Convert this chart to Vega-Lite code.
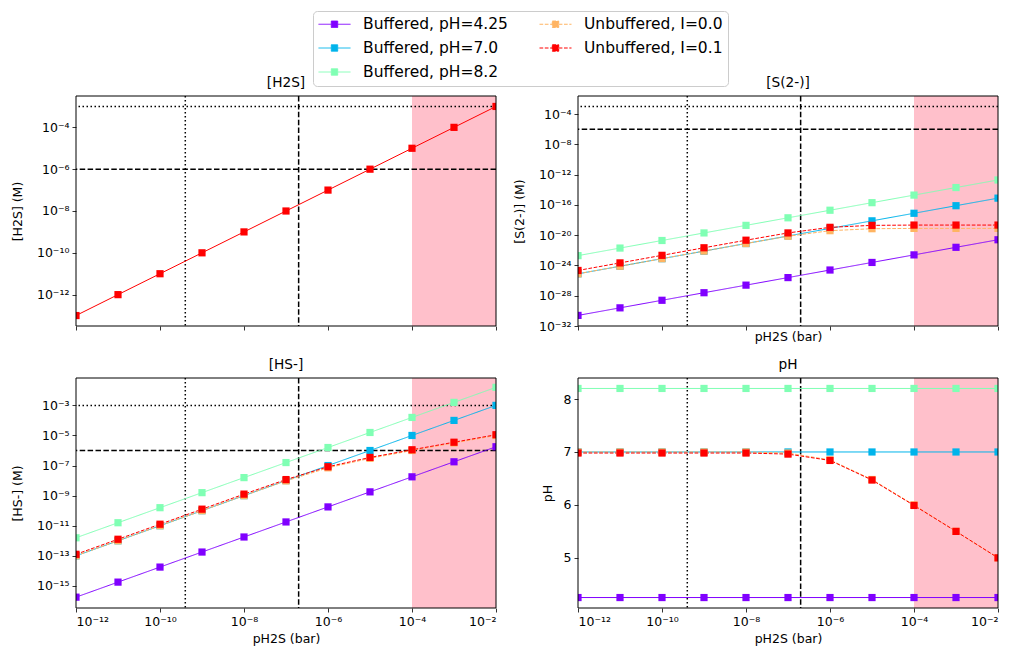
{
  "$schema": "https://vega.github.io/schema/vega-lite/v6.json",
  "padding": {"left": 11, "top": 10, "right": 5, "bottom": 5},
  "config": {
    "font": "DejaVu Sans",
    "view": {"stroke": null},
    "axis": {
      "grid": false,
      "domain": false,
      "tickColor": "black",
      "tickSize": 4,
      "tickWidth": 0.8,
      "labelColor": "black",
      "titleColor": "black",
      "labelFontSize": 12.5,
      "titleFontSize": 12.5,
      "titleFontWeight": "normal",
      "labelPadding": 3
    },
    "title": {"fontSize": 13.7, "fontWeight": "normal", "color": "black", "offset": 6}
  },
  "datasets": {
    "band": [{"lo": 1e-4, "hi": 1e-2}],
    "curves": [
      {"x": 1e-12, "s": "Buffered, pH=4.25", "h2s": 1e-13, "s2": 2.51e-31, "hs": 1.78e-16, "ph": 4.25},
      {"x": 1e-11, "s": "Buffered, pH=4.25", "h2s": 1e-12, "s2": 2.51e-30, "hs": 1.78e-15, "ph": 4.25},
      {"x": 1e-10, "s": "Buffered, pH=4.25", "h2s": 1e-11, "s2": 2.51e-29, "hs": 1.78e-14, "ph": 4.25},
      {"x": 1e-9, "s": "Buffered, pH=4.25", "h2s": 1e-10, "s2": 2.51e-28, "hs": 1.78e-13, "ph": 4.25},
      {"x": 1e-8, "s": "Buffered, pH=4.25", "h2s": 1e-9, "s2": 2.51e-27, "hs": 1.78e-12, "ph": 4.25},
      {"x": 1e-7, "s": "Buffered, pH=4.25", "h2s": 1e-8, "s2": 2.51e-26, "hs": 1.78e-11, "ph": 4.25},
      {"x": 1e-6, "s": "Buffered, pH=4.25", "h2s": 1e-7, "s2": 2.51e-25, "hs": 1.78e-10, "ph": 4.25},
      {"x": 1e-5, "s": "Buffered, pH=4.25", "h2s": 1e-6, "s2": 2.51e-24, "hs": 1.78e-9, "ph": 4.25},
      {"x": 1e-4, "s": "Buffered, pH=4.25", "h2s": 1e-5, "s2": 2.51e-23, "hs": 1.78e-8, "ph": 4.25},
      {"x": 1e-3, "s": "Buffered, pH=4.25", "h2s": 1e-4, "s2": 2.51e-22, "hs": 1.78e-7, "ph": 4.25},
      {"x": 1e-2, "s": "Buffered, pH=4.25", "h2s": 1e-3, "s2": 2.51e-21, "hs": 1.78e-6, "ph": 4.25},

      {"x": 1e-12, "s": "Buffered, pH=7.0", "h2s": 1e-13, "s2": 7.94e-26, "hs": 1e-13, "ph": 7.0},
      {"x": 1e-11, "s": "Buffered, pH=7.0", "h2s": 1e-12, "s2": 7.94e-25, "hs": 1e-12, "ph": 7.0},
      {"x": 1e-10, "s": "Buffered, pH=7.0", "h2s": 1e-11, "s2": 7.94e-24, "hs": 1e-11, "ph": 7.0},
      {"x": 1e-9, "s": "Buffered, pH=7.0", "h2s": 1e-10, "s2": 7.94e-23, "hs": 1e-10, "ph": 7.0},
      {"x": 1e-8, "s": "Buffered, pH=7.0", "h2s": 1e-9, "s2": 7.94e-22, "hs": 1e-9, "ph": 7.0},
      {"x": 1e-7, "s": "Buffered, pH=7.0", "h2s": 1e-8, "s2": 7.94e-21, "hs": 1e-8, "ph": 7.0},
      {"x": 1e-6, "s": "Buffered, pH=7.0", "h2s": 1e-7, "s2": 7.94e-20, "hs": 1e-7, "ph": 7.0},
      {"x": 1e-5, "s": "Buffered, pH=7.0", "h2s": 1e-6, "s2": 7.94e-19, "hs": 1e-6, "ph": 7.0},
      {"x": 1e-4, "s": "Buffered, pH=7.0", "h2s": 1e-5, "s2": 7.94e-18, "hs": 1e-5, "ph": 7.0},
      {"x": 1e-3, "s": "Buffered, pH=7.0", "h2s": 1e-4, "s2": 7.94e-17, "hs": 1e-4, "ph": 7.0},
      {"x": 1e-2, "s": "Buffered, pH=7.0", "h2s": 1e-3, "s2": 7.94e-16, "hs": 1e-3, "ph": 7.0},

      {"x": 1e-12, "s": "Buffered, pH=8.2", "h2s": 1e-13, "s2": 2.0e-23, "hs": 1.58e-12, "ph": 8.2},
      {"x": 1e-11, "s": "Buffered, pH=8.2", "h2s": 1e-12, "s2": 2.0e-22, "hs": 1.58e-11, "ph": 8.2},
      {"x": 1e-10, "s": "Buffered, pH=8.2", "h2s": 1e-11, "s2": 2.0e-21, "hs": 1.58e-10, "ph": 8.2},
      {"x": 1e-9, "s": "Buffered, pH=8.2", "h2s": 1e-10, "s2": 2.0e-20, "hs": 1.58e-9, "ph": 8.2},
      {"x": 1e-8, "s": "Buffered, pH=8.2", "h2s": 1e-9, "s2": 2.0e-19, "hs": 1.58e-8, "ph": 8.2},
      {"x": 1e-7, "s": "Buffered, pH=8.2", "h2s": 1e-8, "s2": 2.0e-18, "hs": 1.58e-7, "ph": 8.2},
      {"x": 1e-6, "s": "Buffered, pH=8.2", "h2s": 1e-7, "s2": 2.0e-17, "hs": 1.58e-6, "ph": 8.2},
      {"x": 1e-5, "s": "Buffered, pH=8.2", "h2s": 1e-6, "s2": 2.0e-16, "hs": 1.58e-5, "ph": 8.2},
      {"x": 1e-4, "s": "Buffered, pH=8.2", "h2s": 1e-5, "s2": 2.0e-15, "hs": 1.58e-4, "ph": 8.2},
      {"x": 1e-3, "s": "Buffered, pH=8.2", "h2s": 1e-4, "s2": 2.0e-14, "hs": 1.58e-3, "ph": 8.2},
      {"x": 1e-2, "s": "Buffered, pH=8.2", "h2s": 1e-3, "s2": 2.0e-13, "hs": 1.58e-2, "ph": 8.2},

      {"x": 1e-12, "s": "Unbuffered, I=0.0", "h2s": 1e-13, "s2": 7.94e-26, "hs": 1e-13, "ph": 7.0},
      {"x": 1e-11, "s": "Unbuffered, I=0.0", "h2s": 1e-12, "s2": 7.94e-25, "hs": 1e-12, "ph": 7.0},
      {"x": 1e-10, "s": "Unbuffered, I=0.0", "h2s": 1e-11, "s2": 7.94e-24, "hs": 1e-11, "ph": 7.0},
      {"x": 1e-9, "s": "Unbuffered, I=0.0", "h2s": 1e-10, "s2": 7.94e-23, "hs": 1e-10, "ph": 7.0},
      {"x": 1e-8, "s": "Unbuffered, I=0.0", "h2s": 1e-9, "s2": 7.94e-22, "hs": 1e-9, "ph": 7.0},
      {"x": 1e-7, "s": "Unbuffered, I=0.0", "h2s": 1e-8, "s2": 7.24e-21, "hs": 9.55e-9, "ph": 6.98},
      {"x": 1e-6, "s": "Unbuffered, I=0.0", "h2s": 1e-7, "s2": 3.98e-20, "hs": 7.08e-8, "ph": 6.85},
      {"x": 1e-5, "s": "Unbuffered, I=0.0", "h2s": 1e-6, "s2": 7.24e-20, "hs": 3.02e-7, "ph": 6.48},
      {"x": 1e-4, "s": "Unbuffered, I=0.0", "h2s": 1e-5, "s2": 7.94e-20, "hs": 1e-6, "ph": 6.0},
      {"x": 1e-3, "s": "Unbuffered, I=0.0", "h2s": 1e-4, "s2": 7.94e-20, "hs": 3.16e-6, "ph": 5.5},
      {"x": 1e-2, "s": "Unbuffered, I=0.0", "h2s": 1e-3, "s2": 7.94e-20, "hs": 1e-5, "ph": 5.0},

      {"x": 1e-12, "s": "Unbuffered, I=0.1", "h2s": 1e-13, "s2": 2.19e-25, "hs": 1.26e-13, "ph": 6.98},
      {"x": 1e-11, "s": "Unbuffered, I=0.1", "h2s": 1e-12, "s2": 2.19e-24, "hs": 1.26e-12, "ph": 6.98},
      {"x": 1e-10, "s": "Unbuffered, I=0.1", "h2s": 1e-11, "s2": 2.19e-23, "hs": 1.26e-11, "ph": 6.98},
      {"x": 1e-9, "s": "Unbuffered, I=0.1", "h2s": 1e-10, "s2": 2.19e-22, "hs": 1.26e-10, "ph": 6.98},
      {"x": 1e-8, "s": "Unbuffered, I=0.1", "h2s": 1e-9, "s2": 2.19e-21, "hs": 1.26e-9, "ph": 6.98},
      {"x": 1e-7, "s": "Unbuffered, I=0.1", "h2s": 1e-8, "s2": 2.0e-20, "hs": 1.17e-8, "ph": 6.96},
      {"x": 1e-6, "s": "Unbuffered, I=0.1", "h2s": 1e-7, "s2": 1.10e-19, "hs": 8.32e-8, "ph": 6.84},
      {"x": 1e-5, "s": "Unbuffered, I=0.1", "h2s": 1e-6, "s2": 2.0e-19, "hs": 3.47e-7, "ph": 6.47},
      {"x": 1e-4, "s": "Unbuffered, I=0.1", "h2s": 1e-5, "s2": 2.19e-19, "hs": 1.12e-6, "ph": 5.99},
      {"x": 1e-3, "s": "Unbuffered, I=0.1", "h2s": 1e-4, "s2": 2.19e-19, "hs": 3.55e-6, "ph": 5.5},
      {"x": 1e-2, "s": "Unbuffered, I=0.1", "h2s": 1e-3, "s2": 2.19e-19, "hs": 1.12e-5, "ph": 5.0}
    ]
  },
  "resolve": {"scale": {"color": "shared", "strokeDash": "shared"}},
  "columns": 2,
  "spacing": {"row": 52, "column": 82},
  "bounds": "flush",
  "concat": [
    {
      "width": 420, "height": 230,
      "title": "[H2S]",
      "layer": [
        {"data": {"name": "band"}, "mark": {"type": "rect", "color": "pink"},
         "encoding": {
           "x": {"field": "lo", "type": "quantitative", "scale": {"type": "log", "domain": [1e-12, 1e-2], "nice": false},
                 "axis": {"values": [1e-12, 1e-10, 1e-8, 1e-6, 1e-4, 1e-2], "labels": false, "title": null}},
           "x2": {"field": "hi"}}},
        {"data": {"values": [{"p": 4e-10}]}, "mark": {"type": "rule", "color": "black", "strokeWidth": 1.5, "strokeDash": [1.5, 2.5]},
         "encoding": {"x": {"field": "p", "type": "quantitative"}}},
        {"data": {"values": [{"p": 2e-7}]}, "mark": {"type": "rule", "color": "black", "strokeWidth": 1.5, "strokeDash": [5.5, 2.4]},
         "encoding": {"x": {"field": "p", "type": "quantitative"}}},
        {"data": {"values": [{"c": 1e-3}]}, "mark": {"type": "rule", "color": "black", "strokeWidth": 1.5, "strokeDash": [1.5, 2.5]},
         "encoding": {"y": {"field": "c", "type": "quantitative", "scale": {"type": "log", "domain": [3.162e-14, 3.162e-3], "nice": false},
           "axis": {"values": [1e-12, 1e-10, 1e-8, 1e-6, 1e-4], "title": "[H2S] (M)", "titlePadding": 12,
             "labelExpr": "'10⁻' + (abs(round(log(datum.value)/LN10)) >= 10 ? ['⁰','¹','²','³','⁴','⁵','⁶','⁷','⁸','⁹'][floor(abs(round(log(datum.value)/LN10))/10)] : '') + ['⁰','¹','²','³','⁴','⁵','⁶','⁷','⁸','⁹'][abs(round(log(datum.value)/LN10)) % 10]"}}}},
        {"data": {"values": [{"c": 1e-6}]}, "mark": {"type": "rule", "color": "black", "strokeWidth": 1.5, "strokeDash": [5.5, 2.4]},
         "encoding": {"y": {"field": "c", "type": "quantitative"}}},
        {"data": {"name": "curves"}, "transform": [{"filter": "datum.s === 'Unbuffered, I=0.1'"}],
         "mark": {"type": "line", "strokeWidth": 1, "color": "#ff0000", "clip": true},
         "encoding": {
           "x": {"field": "x", "type": "quantitative"},
           "y": {"field": "h2s", "type": "quantitative"}}},
        {"data": {"name": "curves"}, "transform": [{"filter": "datum.s === 'Unbuffered, I=0.1'"}],
         "mark": {"type": "point", "shape": "square", "filled": true, "size": 52, "opacity": 1, "color": "#ff0000", "clip": true},
         "encoding": {
           "x": {"field": "x", "type": "quantitative"},
           "y": {"field": "h2s", "type": "quantitative"}}},
        {"data": {"name": "band"}, "mark": {"type": "rect", "fill": null, "filled": false, "stroke": "black", "strokeWidth": 1},
         "encoding": {}}
      ]
    },
    {
      "width": 420, "height": 230,
      "title": "[S(2-)]",
      "layer": [
        {"data": {"name": "band"}, "mark": {"type": "rect", "color": "pink"},
         "encoding": {
           "x": {"field": "lo", "type": "quantitative", "scale": {"type": "log", "domain": [1e-12, 1e-2], "nice": false},
                 "axis": {"values": [1e-12, 1e-10, 1e-8, 1e-6, 1e-4, 1e-2], "labels": false, "title": "pH2S (bar)", "titlePadding": 0}},
           "x2": {"field": "hi"}}},
        {"data": {"values": [{"p": 4e-10}]}, "mark": {"type": "rule", "color": "black", "strokeWidth": 1.5, "strokeDash": [1.5, 2.5]},
         "encoding": {"x": {"field": "p", "type": "quantitative"}}},
        {"data": {"values": [{"p": 2e-7}]}, "mark": {"type": "rule", "color": "black", "strokeWidth": 1.5, "strokeDash": [5.5, 2.4]},
         "encoding": {"x": {"field": "p", "type": "quantitative"}}},
        {"data": {"values": [{"c": 1e-3}]}, "mark": {"type": "rule", "color": "black", "strokeWidth": 1.5, "strokeDash": [1.5, 2.5]},
         "encoding": {"y": {"field": "c", "type": "quantitative", "scale": {"type": "log", "domain": [1e-32, 2.51e-2], "nice": false},
           "axis": {"values": [1e-32, 1e-28, 1e-24, 1e-20, 1e-16, 1e-12, 1e-8, 1e-4], "title": "[S(2-)] (M)", "titlePadding": 12,
             "labelExpr": "'10⁻' + (abs(round(log(datum.value)/LN10)) >= 10 ? ['⁰','¹','²','³','⁴','⁵','⁶','⁷','⁸','⁹'][floor(abs(round(log(datum.value)/LN10))/10)] : '') + ['⁰','¹','²','³','⁴','⁵','⁶','⁷','⁸','⁹'][abs(round(log(datum.value)/LN10)) % 10]"}}}},
        {"data": {"values": [{"c": 1e-6}]}, "mark": {"type": "rule", "color": "black", "strokeWidth": 1.5, "strokeDash": [5.5, 2.4]},
         "encoding": {"y": {"field": "c", "type": "quantitative"}}},
        {"data": {"name": "curves"}, "mark": {"type": "line", "strokeWidth": 1, "clip": true},
         "encoding": {
           "x": {"field": "x", "type": "quantitative"},
           "y": {"field": "s2", "type": "quantitative"},
           "color": {"field": "s", "type": "nominal",
             "scale": {"domain": ["Buffered, pH=4.25", "Buffered, pH=7.0", "Buffered, pH=8.2", "Unbuffered, I=0.0", "Unbuffered, I=0.1"],
                       "range": ["#8000ff", "#00b4eb", "#80ffb4", "#ffb462", "#ff0000"]},
             "legend": {"orient": "none", "legendX": 237, "legendY": -85, "columns": 2, "title": null,
               "symbolType": "M-1,0H-0.2M0.2,0H1M-0.2,-0.2H0.2V0.2H-0.2Z", "symbolSize": 1024, "symbolStrokeWidth": 1,
               "clipHeight": 16, "rowPadding": 7, "columnPadding": 31, "labelOffset": 12,
               "labelFontSize": 15.5, "labelColor": "black", "labelLimit": 400,
               "fillColor": "white", "strokeColor": "#cccccc", "cornerRadius": 4, "padding": 5,
               "encode": {"symbols": {"update": {"fill": {"scale": "color", "field": "value"}, "opacity": {"value": 1}}}}}},
           "strokeDash": {"field": "s", "type": "nominal",
             "scale": {"domain": ["Buffered, pH=4.25", "Buffered, pH=7.0", "Buffered, pH=8.2", "Unbuffered, I=0.0", "Unbuffered, I=0.1"],
                       "range": [[1, 0], [1, 0], [1, 0], [3.7, 1.6], [3.7, 1.6]]}}}},
        {"data": {"name": "curves"}, "mark": {"type": "point", "shape": "square", "filled": true, "size": 52, "opacity": 1, "clip": true},
         "encoding": {
           "x": {"field": "x", "type": "quantitative"},
           "y": {"field": "s2", "type": "quantitative"},
           "color": {"field": "s", "type": "nominal"}}},
        {"data": {"name": "band"}, "mark": {"type": "rect", "fill": null, "filled": false, "stroke": "black", "strokeWidth": 1},
         "encoding": {}}
      ]
    },
    {
      "width": 420, "height": 230,
      "title": "[HS-]",
      "layer": [
        {"data": {"name": "band"}, "mark": {"type": "rect", "color": "pink"},
         "encoding": {
           "x": {"field": "lo", "type": "quantitative", "scale": {"type": "log", "domain": [1e-12, 1e-2], "nice": false},
                 "axis": {"values": [1e-12, 1e-10, 1e-8, 1e-6, 1e-4, 1e-2], "title": "pH2S (bar)", "titlePadding": 5,
                   "labelExpr": "'10⁻' + (abs(round(log(datum.value)/LN10)) >= 10 ? ['⁰','¹','²','³','⁴','⁵','⁶','⁷','⁸','⁹'][floor(abs(round(log(datum.value)/LN10))/10)] : '') + ['⁰','¹','²','³','⁴','⁵','⁶','⁷','⁸','⁹'][abs(round(log(datum.value)/LN10)) % 10]"}},
           "x2": {"field": "hi"}}},
        {"data": {"values": [{"p": 4e-10}]}, "mark": {"type": "rule", "color": "black", "strokeWidth": 1.5, "strokeDash": [1.5, 2.5]},
         "encoding": {"x": {"field": "p", "type": "quantitative"}}},
        {"data": {"values": [{"p": 2e-7}]}, "mark": {"type": "rule", "color": "black", "strokeWidth": 1.5, "strokeDash": [5.5, 2.4]},
         "encoding": {"x": {"field": "p", "type": "quantitative"}}},
        {"data": {"values": [{"c": 1e-3}]}, "mark": {"type": "rule", "color": "black", "strokeWidth": 1.5, "strokeDash": [1.5, 2.5]},
         "encoding": {"y": {"field": "c", "type": "quantitative", "scale": {"type": "log", "domain": [3.39e-17, 6.61e-2], "nice": false},
           "axis": {"values": [1e-15, 1e-13, 1e-11, 1e-9, 1e-7, 1e-5, 1e-3], "title": "[HS-] (M)", "titlePadding": 12,
             "labelExpr": "'10⁻' + (abs(round(log(datum.value)/LN10)) >= 10 ? ['⁰','¹','²','³','⁴','⁵','⁶','⁷','⁸','⁹'][floor(abs(round(log(datum.value)/LN10))/10)] : '') + ['⁰','¹','²','³','⁴','⁵','⁶','⁷','⁸','⁹'][abs(round(log(datum.value)/LN10)) % 10]"}}}},
        {"data": {"values": [{"c": 1e-6}]}, "mark": {"type": "rule", "color": "black", "strokeWidth": 1.5, "strokeDash": [5.5, 2.4]},
         "encoding": {"y": {"field": "c", "type": "quantitative"}}},
        {"data": {"name": "curves"}, "mark": {"type": "line", "strokeWidth": 1, "clip": true},
         "encoding": {
           "x": {"field": "x", "type": "quantitative"},
           "y": {"field": "hs", "type": "quantitative"},
           "color": {"field": "s", "type": "nominal"},
           "strokeDash": {"field": "s", "type": "nominal"}}},
        {"data": {"name": "curves"}, "mark": {"type": "point", "shape": "square", "filled": true, "size": 52, "opacity": 1, "clip": true},
         "encoding": {
           "x": {"field": "x", "type": "quantitative"},
           "y": {"field": "hs", "type": "quantitative"},
           "color": {"field": "s", "type": "nominal"}}},
        {"data": {"name": "band"}, "mark": {"type": "rect", "fill": null, "filled": false, "stroke": "black", "strokeWidth": 1},
         "encoding": {}}
      ]
    },
    {
      "width": 420, "height": 230,
      "title": "pH",
      "layer": [
        {"data": {"name": "band"}, "mark": {"type": "rect", "color": "pink"},
         "encoding": {
           "x": {"field": "lo", "type": "quantitative", "scale": {"type": "log", "domain": [1e-12, 1e-2], "nice": false},
                 "axis": {"values": [1e-12, 1e-10, 1e-8, 1e-6, 1e-4, 1e-2], "title": "pH2S (bar)", "titlePadding": 5,
                   "labelExpr": "'10⁻' + (abs(round(log(datum.value)/LN10)) >= 10 ? ['⁰','¹','²','³','⁴','⁵','⁶','⁷','⁸','⁹'][floor(abs(round(log(datum.value)/LN10))/10)] : '') + ['⁰','¹','²','³','⁴','⁵','⁶','⁷','⁸','⁹'][abs(round(log(datum.value)/LN10)) % 10]"}},
           "x2": {"field": "hi"}}},
        {"data": {"values": [{"p": 4e-10}]}, "mark": {"type": "rule", "color": "black", "strokeWidth": 1.5, "strokeDash": [1.5, 2.5]},
         "encoding": {"x": {"field": "p", "type": "quantitative"}}},
        {"data": {"values": [{"p": 2e-7}]}, "mark": {"type": "rule", "color": "black", "strokeWidth": 1.5, "strokeDash": [5.5, 2.4]},
         "encoding": {"x": {"field": "p", "type": "quantitative"}}},
        {"data": {"name": "curves"}, "mark": {"type": "line", "strokeWidth": 1, "clip": true},
         "encoding": {
           "x": {"field": "x", "type": "quantitative"},
           "y": {"field": "ph", "type": "quantitative", "scale": {"domain": [4.0525, 8.3975], "nice": false, "zero": false},
             "axis": {"values": [5, 6, 7, 8], "title": "pH", "titlePadding": 9, "format": "d"}},
           "color": {"field": "s", "type": "nominal"},
           "strokeDash": {"field": "s", "type": "nominal"}}},
        {"data": {"name": "curves"}, "mark": {"type": "point", "shape": "square", "filled": true, "size": 52, "opacity": 1, "clip": true},
         "encoding": {
           "x": {"field": "x", "type": "quantitative"},
           "y": {"field": "ph", "type": "quantitative"},
           "color": {"field": "s", "type": "nominal"}}},
        {"data": {"name": "band"}, "mark": {"type": "rect", "fill": null, "filled": false, "stroke": "black", "strokeWidth": 1},
         "encoding": {}}
      ]
    }
  ]
}
